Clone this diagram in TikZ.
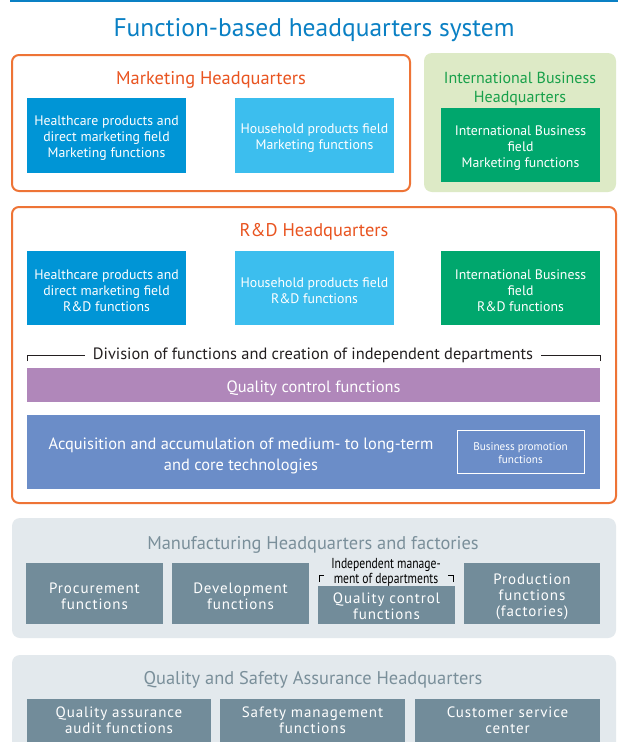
\documentclass[tikz,border=0pt]{standalone}
\usepackage{fontspec}
\setmainfont{PT Sans}
\newfontfamily\condfont[FakeStretch=0.8]{PT Sans}
\newfontfamily\trackfont[LetterSpace=6]{PT Sans}
\definecolor{titleblue}{RGB}{10,128,196}
\definecolor{hqorange}{RGB}{238,116,54}
\definecolor{orangetext}{RGB}{233,84,32}
\definecolor{hcblue}{RGB}{0,149,214}
\definecolor{hhblue}{RGB}{60,190,238}
\definecolor{ibgreen}{RGB}{0,167,109}
\definecolor{ibbg}{RGB}{221,234,198}
\definecolor{ibtitle}{RGB}{24,160,74}
\definecolor{qcpurple}{RGB}{176,135,186}
\definecolor{acqblue}{RGB}{107,141,200}
\definecolor{graybg}{RGB}{227,233,237}
\definecolor{slate}{RGB}{114,140,154}
\definecolor{graytitle}{RGB}{122,143,154}
\definecolor{darktext}{RGB}{35,31,32}
\tikzset{
  every node/.style={inner sep=0pt, outer sep=0pt},
  hqframe/.style={draw=hqorange, line width=2pt, rounded corners=7pt, fill=white},
  softframe/.style={rounded corners=8pt},
  down/.style={yshift=-3pt},
  ftext/.style={down, align=center, text=white, font=\fontsize{13.8}{16}\selectfont},
  gtext/.style={down, align=center, text=white, font=\trackfont\fontsize{15}{16}\selectfont},
  hqtitle/.style={down, font=\fontsize{18.4}{19}\selectfont, align=center},
}
\begin{document}
\begin{tikzpicture}[x=1pt,y=-1pt]
\useasboundingbox (0,0) rectangle (618,742);
\fill[white] (0,0) rectangle (618,742);
\draw[titleblue, line width=1.5pt] (10,0.75) -- (618,0.75);
\node[down, text=titleblue, font=\fontsize{25.5}{28}\selectfont] (title) at (314,27) {Function-based headquarters system};

% Marketing HQ
\node[hqframe, minimum width=398pt, minimum height=136pt] (mkt) at (211,123) {};
\node[hqtitle, text=orangetext] (mktT) at (211,77) {Marketing Headquarters};
\node[fill=hcblue, minimum width=159pt, minimum height=75pt] (mk1) at (106.5,135.5) {};
\node[ftext] (mk1T) at (mk1.center) {Healthcare products and\\direct marketing field\\Marketing functions};
\node[fill=hhblue, minimum width=159pt, minimum height=75pt] (mk2) at (314.5,135.5) {};
\node[ftext] (mk2T) at (mk2.center) {Household products field\\Marketing functions};

% International Business HQ
\node[softframe, fill=ibbg, minimum width=192pt, minimum height=139pt] (ib) at (520,122.5) {};
\node[down, align=center, font=\fontsize{16}{19}\selectfont, text=ibtitle] (ibT) at (520,86) {International Business\\Headquarters};
\node[fill=ibgreen, minimum width=159pt, minimum height=74pt] (ib1) at (520.5,145) {};
\node[ftext] (ib1T) at (ib1.center) {International Business\\field\\Marketing functions};

% R&D HQ
\node[hqframe, minimum width=604pt, minimum height=296pt] (rd) at (314,355) {};
\node[hqtitle, text=orangetext] (rdT) at (314,229) {R\&D Headquarters};
\node[fill=hcblue, minimum width=159pt, minimum height=74pt] (rd1) at (106.5,288) {};
\node[ftext] (rd1T) at (rd1.center) {Healthcare products and\\direct marketing field\\R\&D functions};
\node[fill=hhblue, minimum width=159pt, minimum height=74pt] (rd2) at (314.5,288) {};
\node[ftext] (rd2T) at (rd2.center) {Household products field\\R\&D functions};
\node[fill=ibgreen, minimum width=159pt, minimum height=74pt] (rd3) at (520.5,288) {};
\node[ftext] (rd3T) at (rd3.center) {International Business\\field\\R\&D functions};
\node[text=darktext, font=\fontsize{16.4}{18}\selectfont, inner xsep=8pt] (div) at (313,355) {Division of functions and creation of independent departments};
\coordinate (divL) at (27,361);
\coordinate (divR) at (600,361);
\draw[darktext, line width=0.8pt] (divL) |- (div.west);
\draw[darktext, line width=0.8pt] (divR) |- (div.east);
\node[fill=qcpurple, minimum width=573pt, minimum height=34pt] (qc) at (313.5,385) {};
\node[down, text=white, font=\fontsize{16.4}{18}\selectfont] (qcT) at (qc.center) {Quality control functions};
\node[fill=acqblue, minimum width=573pt, minimum height=74pt] (acq) at (313.5,452) {};
\node[down, text=white, align=center, font=\fontsize{16.4}{21}\selectfont] (acqT) at (241,452.5) {Acquisition and accumulation of medium- to long-term\\and core technologies};
\node[draw=white, line width=1pt, minimum width=127pt, minimum height=43pt] (bp) at (520.5,451.5) {};
\node[down, yshift=1pt, text=white, align=center, font=\fontsize{11.2}{13}\selectfont] (bpT) at (bp.center) {Business promotion\\functions};

% Manufacturing
\node[softframe, fill=graybg, minimum width=604pt, minimum height=120pt] (mfg) at (314,578) {};
\node[hqtitle, text=graytitle] (mfgT) at (313,542) {Manufacturing Headquarters and factories};
\node[fill=slate, minimum width=137pt, minimum height=61pt] (p1) at (94.5,593.5) {};
\node[gtext] (p1T) at (p1.center) {Procurement\\functions};
\node[fill=slate, minimum width=137pt, minimum height=61pt] (p2) at (240.5,593.5) {};
\node[gtext] (p2T) at (p2.center) {Development\\functions};
\node[fill=slate, minimum width=137pt, minimum height=38pt] (p3) at (386.5,605) {};
\node[gtext, yshift=2pt] (p3T) at (p3.center) {Quality control\\functions};
\node[fill=slate, minimum width=136pt, minimum height=61pt] (p4) at (532,593.5) {};
\node[gtext] (p4T) at (p4.center) {Production\\functions\\(factories)};
\node[down, align=center, text=black, font=\condfont\fontsize{14.5}{15}\selectfont] (ind) at (386,569.5) {Independent manage-\\ment of departments};
\coordinate (lbA) at (319,582);
\coordinate (rbA) at (453,582);
\draw[black, line width=0.7pt] (lbA) -- ++(0,-7) -- ++(5,0);
\draw[black, line width=0.7pt] (rbA) -- ++(0,-7) -- ++(-5,0);

% Quality and Safety
\begin{scope}
\clip (0,0) rectangle (618,742);
\node[softframe, fill=graybg, minimum width=604pt, minimum height=110pt] (qs) at (314,710) {};
\node[hqtitle, text=graytitle] (qsT) at (313,677) {Quality and Safety Assurance Headquarters};
\node[fill=slate, minimum width=184pt, minimum height=50pt] (q1) at (119,724) {};
\node[fill=slate, minimum width=185pt, minimum height=50pt] (q2) at (312.5,724) {};
\node[fill=slate, minimum width=185pt, minimum height=50pt] (q3) at (507.5,724) {};
\node[gtext] (q1T) at (119,717) {Quality assurance\\audit functions};
\node[gtext] (q2T) at (312.5,717) {Safety management\\functions};
\node[gtext] (q3T) at (507.5,717) {Customer service\\center};
\end{scope}
\end{tikzpicture}
\end{document}
